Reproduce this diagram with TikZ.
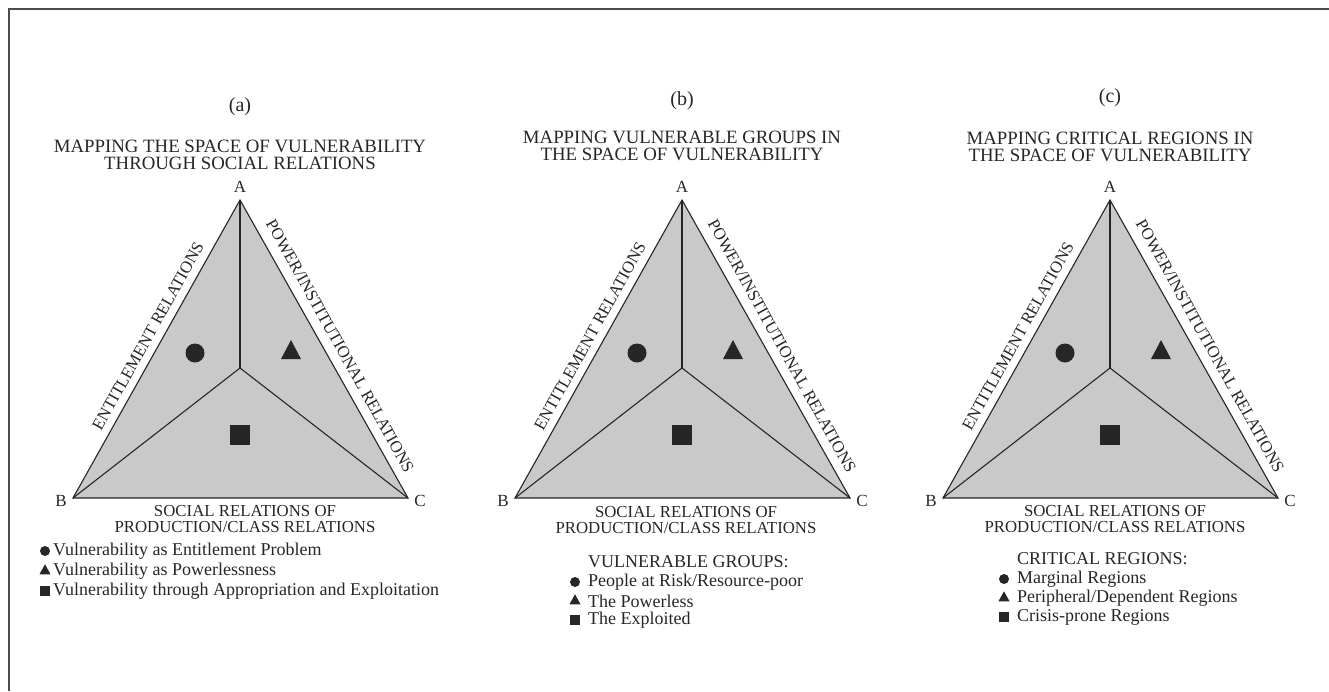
\documentclass[tikz,border=0pt]{standalone}
\usepackage{fontspec}
\setmainfont{Liberation Serif}
\usetikzlibrary{shapes.geometric}
\definecolor{ink}{gray}{0.15}
\definecolor{shade}{gray}{0.79}
\tikzset{
  lbl/.style={font=\fontsize{17}{17}\selectfont, text=ink, inner sep=0pt},
  tag/.style={font=\fontsize{20}{20}\selectfont, text=ink, inner sep=0pt},
  ttl/.style={font=\fontsize{18.8}{17.5}\selectfont, text=ink, inner sep=0pt, align=center},
  basel/.style={font=\fontsize{16.8}{16}\selectfont, text=ink, inner sep=0pt, align=center},
  edgelbl/.style={font=\fontsize{16.8}{16}\selectfont, text=ink, inner sep=0pt},
  legend/.style={font=\fontsize{18}{18}\selectfont, text=ink, inner sep=0pt, anchor=west},
  region/.style={fill=shade, draw=ink, line width=1.1pt, line join=miter},
  divider/.style={draw=ink, line width=1.1pt},
  bigdot/.style={circle, fill=ink, minimum size=19pt, inner sep=0pt},
  bigtri/.style={isosceles triangle, isosceles triangle stretches, shape border rotate=90, fill=ink, minimum width=20pt, minimum height=19pt, inner sep=0pt},
  bigsq/.style={rectangle, fill=ink, minimum size=20pt, inner sep=0pt},
  smalldot/.style={circle, fill=ink, minimum size=10pt, inner sep=0pt},
  smalltri/.style={isosceles triangle, isosceles triangle stretches, shape border rotate=90, fill=ink, minimum width=11pt, minimum height=10pt, inner sep=0pt},
  smallsq/.style={rectangle, fill=ink, minimum size=10.5pt, inner sep=0pt},
  frame/.style={draw=black!70, line width=1.6pt}
}
% #1 prefix, #2 apex x
\newcommand\vpanel[2]{%
  \begin{scope}[shift={(#2,0)}]
    \coordinate (#1A) at (0,200);
    \coordinate (#1B) at (-167,498);
    \coordinate (#1C) at (168,498);
    \coordinate (#1O) at (0,368);
    \path[region] (#1A) -- (#1B) -- (#1C) -- cycle;
    \draw[divider] (#1O) -- (#1A);
    \draw[divider] (#1O) -- (#1B);
    \draw[divider] (#1O) -- (#1C);
    \node[lbl] (#1Alab) at (0,187) {A};
    \node[lbl] (#1Blab) at (-179,501) {B};
    \node[lbl] (#1Clab) at (180,501) {C};
    \node[edgelbl, rotate=60.9] (#1ent) at (-92,336) {ENTITLEMENT RELATIONS};
    \node[edgelbl, rotate=-60.9] (#1pow) at (100,346) {POWER/INSTITUTIONAL RELATIONS};
    \node[bigdot] (#1dot) at (-45,353) {};
    \node[bigtri] (#1tri) at (51,353) {};
    \node[bigsq] (#1sq) at (0,435) {};
  \end{scope}}
\begin{document}
\begin{tikzpicture}[x=1pt, y=-1pt]
  \useasboundingbox (0,0) rectangle (1329,691);
  \draw[frame] (1329,9) -- (9,9) -- (9,691);

  % panel a
  \vpanel{a}{240}
  \node[tag] (atag) at (240,107) {(a)};
  \node[ttl] (atitle) at (240,155) {MAPPING THE SPACE OF VULNERABILITY\\THROUGH SOCIAL RELATIONS};
  \node[basel] (abase) at (245,519) {SOCIAL RELATIONS OF\\PRODUCTION/CLASS RELATIONS};
  \node[smalldot] (al1m) at (45,551) {};
  \node[legend] (al1) at (53,551) {Vulnerability as Entitlement Problem};
  \node[smalltri] (al2m) at (45,571) {};
  \node[legend] (al2) at (53,571) {Vulnerability as Powerlessness};
  \node[smallsq] (al3m) at (45,591) {};
  \node[legend] (al3) at (53,591) {Vulnerability through Appropriation and Exploitation};

  % panel b
  \vpanel{b}{682}
  \node[tag] (btag) at (682,101) {(b)};
  \node[ttl] (btitle) at (682,146) {MAPPING VULNERABLE GROUPS IN\\THE SPACE OF VULNERABILITY};
  \node[basel] (bbase) at (686,520) {SOCIAL RELATIONS OF\\PRODUCTION/CLASS RELATIONS};
  \node[legend] (bhead) at (588,562) {VULNERABLE GROUPS:};
  \node[smalldot] (bl1m) at (575,582) {};
  \node[legend] (bl1) at (588,582) {People at Risk/Resource-poor};
  \node[smalltri] (bl2m) at (575,601) {};
  \node[legend] (bl2) at (588,601) {The Powerless};
  \node[smallsq] (bl3m) at (575,620) {};
  \node[legend] (bl3) at (588,620) {The Exploited};

  % panel c
  \vpanel{c}{1110}
  \node[tag] (ctag) at (1110,98) {(c)};
  \node[ttl] (ctitle) at (1110,147) {MAPPING CRITICAL REGIONS IN\\THE SPACE OF VULNERABILITY};
  \node[basel] (cbase) at (1115,519) {SOCIAL RELATIONS OF\\PRODUCTION/CLASS RELATIONS};
  \node[legend] (chead) at (1017,559) {CRITICAL REGIONS:};
  \node[smalldot] (cl1m) at (1004,579) {};
  \node[legend] (cl1) at (1017,579) {Marginal Regions};
  \node[smalltri] (cl2m) at (1004,598) {};
  \node[legend] (cl2) at (1017,598) {Peripheral/Dependent Regions};
  \node[smallsq] (cl3m) at (1004,617) {};
  \node[legend] (cl3) at (1017,617) {Crisis-prone Regions};
\end{tikzpicture}
\end{document}
